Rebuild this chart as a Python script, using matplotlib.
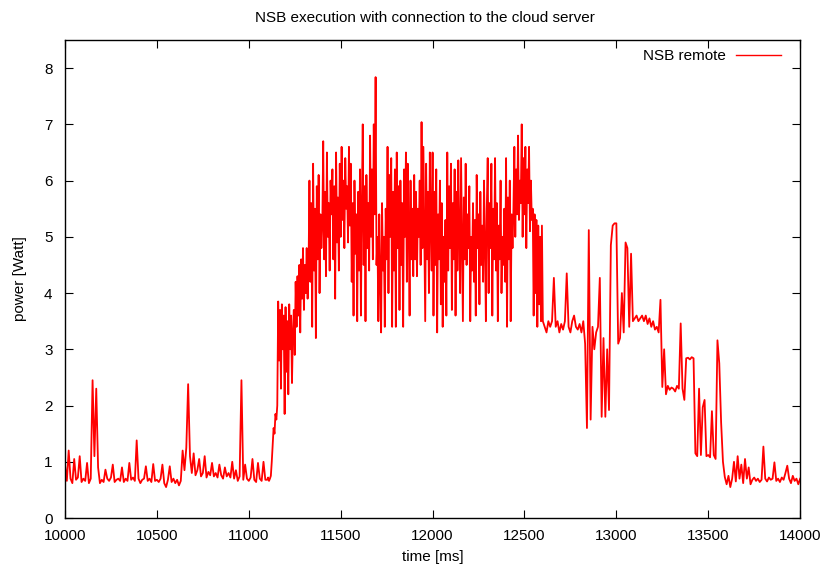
import matplotlib
matplotlib.use("Agg")
import matplotlib.pyplot as plt
import numpy as np

plt.rcParams["font.family"] = ["Liberation Sans", "DejaVu Sans"]

# power readings in watts; the idle and settling phases were logged every
# 10 ms, the ramp and the busy phase every 5 ms
idle_start_t0, idle_start_dt = 10000, 10
idle_start = [
    0.95, 0.66, 1.20, 0.70, 0.62, 1.05, 0.68, 0.72, 1.10, 0.64,
    0.70, 0.66, 0.98, 0.62, 0.70, 2.45, 1.10, 2.30, 0.90, 0.62,
    0.68, 0.64, 0.86, 0.70, 0.66, 0.72, 0.95, 0.64, 0.68, 0.70,
    0.66, 0.90, 0.64, 0.70, 0.66, 0.98, 0.68, 0.72, 0.66, 1.38,
    0.70, 0.62, 0.68, 0.70, 0.92, 0.66, 0.70, 0.64, 0.96, 0.66,
    0.68, 0.64, 0.70, 0.95, 0.62, 0.55, 0.68, 0.92, 0.64, 0.70,
    0.62, 0.68, 0.58, 0.66, 1.20, 0.85, 1.25, 2.38, 1.10, 0.80,
    1.15, 0.76, 0.85, 1.05, 0.74, 0.80, 1.10, 0.72, 0.82, 0.76,
    0.98, 0.74, 0.80, 0.72, 0.95, 0.76, 0.70, 0.90, 0.74, 0.80,
    0.72, 1.00, 0.70, 0.85, 0.66, 0.74, 2.45, 0.68, 0.95, 0.70,
    0.66, 0.72, 1.05, 0.68, 0.64, 0.98, 0.70, 0.66, 1.00, 0.68,
]

ramp_up_t0, ramp_up_dt = 11100, 5
ramp_up = [
    0.68, 0.72, 0.66, 0.70, 0.75, 1.00, 1.30, 1.60, 1.50, 1.85,
    1.75, 2.00, 3.85, 2.80, 3.70, 2.30, 3.80, 3.00, 3.60, 1.85,
    3.75, 2.60, 3.50, 2.20, 3.80, 3.00, 3.60, 2.40, 3.30, 3.70,
    2.90, 4.20, 3.40, 4.30, 3.60, 4.50, 3.30, 4.60, 3.90, 4.80,
    3.70, 4.50, 4.00, 4.80, 3.90, 4.40, 6.00, 4.20, 5.60, 3.40,
    6.30, 4.40, 5.50, 3.20, 5.90, 4.60, 6.10, 4.00, 5.40, 4.80,
]

busy_t0, busy_dt = 11400, 5
busy = [
    5.20, 6.70, 4.60, 5.80, 4.30, 6.50, 5.00, 5.60, 4.40, 6.00,
    5.40, 6.20, 4.60, 5.90, 3.90, 6.50, 4.90, 5.70, 4.40, 6.30,
    5.00, 6.60, 5.30, 6.00, 4.80, 6.40, 5.50, 5.90, 4.90, 6.60,
    5.20, 6.30, 4.20, 5.60, 3.60, 6.00, 4.70, 5.40, 3.50, 5.80,
    4.40, 6.20, 3.60, 5.50, 7.00, 4.50, 5.90, 3.50, 6.10, 4.80,
    5.60, 4.40, 6.80, 5.00, 6.20, 4.60, 7.00, 5.40, 7.84, 4.50,
    5.00, 3.50, 5.40, 4.20, 3.30, 5.60, 4.40, 5.00, 3.40, 5.50,
    4.60, 6.60, 4.00, 6.10, 5.00, 6.40, 3.40, 5.80, 4.40, 6.20,
    3.40, 6.50, 4.80, 5.90, 3.70, 6.00, 4.50, 5.60, 3.40, 6.20,
    5.00, 6.50, 4.20, 6.30, 5.20, 3.60, 6.00, 4.60, 5.50, 4.30,
    6.10, 4.60, 5.80, 4.30, 5.50, 5.00, 6.00, 4.50, 7.04, 4.80,
    6.60, 5.00, 3.50, 6.30, 4.60, 5.80, 4.00, 6.50, 5.20, 4.40,
    6.50, 3.60, 5.80, 4.50, 6.20, 3.30, 5.40, 4.60, 6.00, 3.80,
    5.60, 3.40, 5.00, 4.20, 5.30, 3.60, 6.50, 4.40, 5.90, 4.80,
    6.30, 3.70, 5.60, 4.60, 6.20, 3.60, 5.80, 4.40, 6.36, 5.00,
    4.00, 6.40, 5.00, 3.50, 5.70, 4.60, 6.30, 4.50, 5.40, 4.80,
    5.90, 3.50, 5.00, 4.40, 5.60, 4.20, 5.30, 3.60, 6.10, 4.80,
    5.40, 3.80, 5.80, 4.50, 5.20, 4.20, 6.00, 4.90, 3.50, 5.50,
    6.40, 4.00, 5.60, 4.80, 6.30, 3.60, 5.50, 4.60, 6.40, 4.40,
    5.60, 3.50, 5.20, 4.60, 6.00, 4.00, 5.00, 4.50, 5.50, 4.20,
    6.40, 3.40, 5.70, 4.60, 6.00, 3.50, 5.40, 4.80, 5.50, 6.60,
    5.00, 6.20, 5.40, 6.80, 5.30, 6.00, 5.60, 7.00, 5.00, 6.40,
    5.40, 6.60, 4.80, 6.20, 5.60, 6.60, 5.10, 6.00, 5.30, 5.50,
    3.60, 5.40, 4.00, 5.30, 3.40, 5.20, 3.80, 5.00, 3.50, 5.20,
]

settle_t0, settle_dt = 12600, 10
settle = [
    3.50, 3.40, 3.30, 3.50, 3.40, 3.50, 4.27, 3.40, 3.50, 3.30,
    3.45, 3.35, 3.50, 4.35, 3.40, 3.30, 3.50, 3.60, 3.40, 3.35,
    3.45, 3.30, 3.50, 3.10, 1.60, 5.12, 1.75, 3.40, 3.00, 3.30,
    3.40, 4.27, 1.80, 3.20, 1.80, 3.00, 1.92, 4.85, 5.20, 5.24,
    5.24, 3.10, 3.20, 4.00, 3.30, 4.90, 4.80, 3.40, 4.70, 3.50,
    3.55, 3.60, 3.50, 3.55, 3.60, 3.50, 3.60, 3.45, 3.55, 3.40,
    3.50, 3.35, 3.40, 3.30, 3.88, 2.33, 3.00, 2.20, 2.35, 2.28,
    2.32, 2.30, 2.25, 2.35, 2.30, 3.46, 2.30, 2.10, 2.84, 2.85,
    2.82, 2.86, 2.84, 1.15, 1.10, 2.30, 1.12, 1.97, 2.10, 1.10,
    1.12, 1.08, 1.90, 1.12, 1.05, 3.16, 2.75, 1.70, 1.00, 0.73,
]

idle_end_t0, idle_end_dt = 13600, 10
idle_end = [
    0.60, 0.75, 0.55, 0.70, 1.00, 0.65, 1.10, 0.70, 0.95, 0.62,
    1.05, 0.70, 0.90, 0.60, 0.68, 0.72, 0.66, 0.70, 0.64, 0.68,
    1.27, 0.70, 0.65, 0.72, 0.68, 0.70, 0.99, 0.66, 0.70, 0.64,
    0.72, 0.68, 0.80, 0.93, 0.70, 0.62, 0.75, 0.66, 0.70, 0.60,
    0.70,
]

x_ticks = [10000, 10500, 11000, 11500, 12000, 12500, 13000, 13500, 14000]
y_ticks = [0, 1, 2, 3, 4, 5, 6, 7, 8]

segments = [
    (idle_start_t0, idle_start_dt, idle_start),
    (ramp_up_t0, ramp_up_dt, ramp_up),
    (busy_t0, busy_dt, busy),
    (settle_t0, settle_dt, settle),
    (idle_end_t0, idle_end_dt, idle_end),
]
time_ms = np.concatenate([t0 + dt * np.arange(len(v)) for t0, dt, v in segments])
power = np.concatenate([np.asarray(v, dtype=float) for _, _, v in segments])

fig = plt.figure(figsize=(8.26, 5.69), dpi=100)
ax = fig.add_axes([0.0787, 0.0896, 0.89, 0.8401])

ax.plot(time_ms, power, color="#ff0000", linewidth=1.3, label="NSB remote")

ax.set_xlim(10000, 14000)
ax.set_ylim(0, 8.5)
ax.set_xticks(x_ticks)
ax.set_yticks(y_ticks)
ax.tick_params(direction="in", top=True, right=True, length=6, width=0.8,
               labelsize=11)
ax.tick_params(axis="x", pad=8)
ax.tick_params(axis="y", pad=9)
for spine in ax.spines.values():
    spine.set_linewidth(1.0)

ax.set_title("NSB execution with connection to the cloud server",
             fontsize=11, pad=13, x=0.49)
ax.set_xlabel("time [ms]", fontsize=11, labelpad=5)
ax.set_ylabel("power [Watt]", fontsize=11, labelpad=12)

leg = ax.legend(loc="upper right", bbox_to_anchor=(0.982, 0.993),
                frameon=False, markerfirst=False, handlelength=2.9,
                fontsize=11, borderaxespad=0, handletextpad=0.7)
for line in leg.get_lines():
    line.set_linewidth(1.0)

fig.savefig("out.png", dpi=100)
